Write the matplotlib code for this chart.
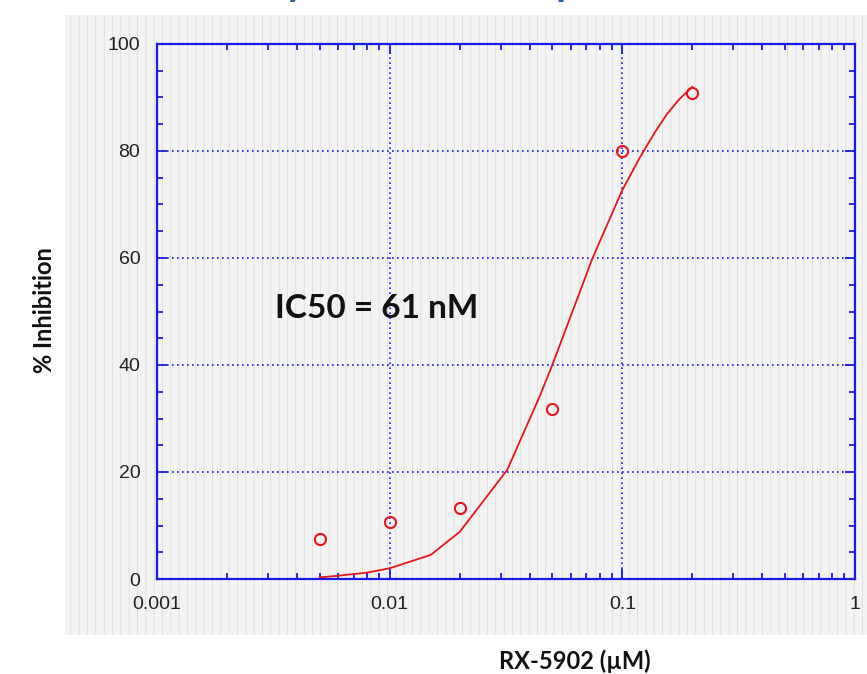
import matplotlib
matplotlib.use("Agg")
import matplotlib.pyplot as plt
from matplotlib.patches import Rectangle
from matplotlib.ticker import LogLocator, MultipleLocator, FixedLocator

# measured points
conc = [0.005, 0.01, 0.02, 0.05, 0.1, 0.2]
inhib = [7.5, 10.7, 13.3, 31.8, 80.0, 90.8]

# fitted curve
fit_x = [0.005, 0.006, 0.008, 0.01, 0.015, 0.02, 0.032, 0.044, 0.05,
         0.0745, 0.1, 0.119, 0.138, 0.155, 0.175, 0.2]
fit_y = [0.3, 0.6, 1.2, 2.0, 4.5, 8.8, 20.4, 34.0, 40.0,
         60.0, 72.7, 78.8, 83.5, 86.8, 89.6, 92.0]

x_ticks = [0.001, 0.01, 0.1, 1]
x_ticklabels = ["0.001", "0.01", "0.1", "1"]
y_ticks = [0, 20, 40, 60, 80, 100]

blue = "#1a1ae6"
red = "#e8141c"

fig = plt.figure(figsize=(8.67, 6.74), dpi=100)

# paper-like background
plt.rcParams['hatch.linewidth'] = 0.5
bg = Rectangle((65 / 867, 1 - 635 / 674), 1 - 65 / 867, (635 - 15) / 674,
               transform=fig.transFigure, facecolor="#f3f3f3",
               edgecolor="#d9d9d9", hatch="||", linewidth=0, zorder=-5)
fig.patches.append(bg)

ax = fig.add_axes([157 / 867, 1 - 579 / 674, (855 - 157) / 867, (579 - 44) / 674])
ax.set_facecolor("none")
ax.set_zorder(2)

ax.plot(fit_x, fit_y, color=red, lw=1.3, zorder=3)
ax.plot(conc, inhib, "o", mfc="none", mec=red, mew=1.5, ms=8, zorder=4)

ax.set_xscale("log")
ax.set_xlim(0.001, 1)
ax.set_ylim(0, 100)
ax.xaxis.set_major_locator(FixedLocator(x_ticks))
ax.set_xticklabels(x_ticklabels)
ax.xaxis.set_minor_locator(LogLocator(base=10, subs=range(2, 10)))
ax.xaxis.set_minor_formatter(plt.NullFormatter())
ax.yaxis.set_major_locator(FixedLocator(y_ticks))
ax.yaxis.set_minor_locator(MultipleLocator(5))

for s in ax.spines.values():
    s.set_color(blue)
    s.set_linewidth(1.6)

ax.tick_params(which="both", direction="in", color=blue, top=True, right=True,
               labelsize=14, labelcolor="#222222", pad=12)
ax.tick_params(which="major", length=7, width=1.3)
ax.tick_params(which="minor", length=4.5, width=1.3)
for lab in ax.get_xticklabels() + ax.get_yticklabels():
    lab.set_family("Liberation Sans")

ax.grid(True, which="major", color=blue, linestyle=(0, (1, 2)), lw=1.2)
ax.set_axisbelow(False)

ax.text(275 / 867, 1 - 308 / 674, "IC50 = 61 nM", transform=fig.transFigure,
        fontsize=24, fontweight="bold", family="Lato", color="#111111",
        va="center", ha="left")

fig.text(575 / 867, 1 - 661 / 674, "RX-5902 (\u00b5M)", fontsize=17,
         fontweight="bold", family="Lato", color="#111111", ha="center", va="center")
fig.text(44 / 867, 1 - 310 / 674, "% Inhibition", fontsize=17, rotation=90,
         fontweight="bold", family="Lato", color="#111111", ha="center", va="center")

# clipped title descenders at the top edge
fig.text(285 / 867, 1.008, "y", fontsize=30, fontweight="bold", family="Lato",
         color="#2f63ad", ha="left", va="baseline")
fig.text(555 / 867, 1.008, "p", fontsize=30, fontweight="bold", family="Lato",
         color="#2f63ad", ha="left", va="baseline")

fig.savefig("out.png", dpi=100)
